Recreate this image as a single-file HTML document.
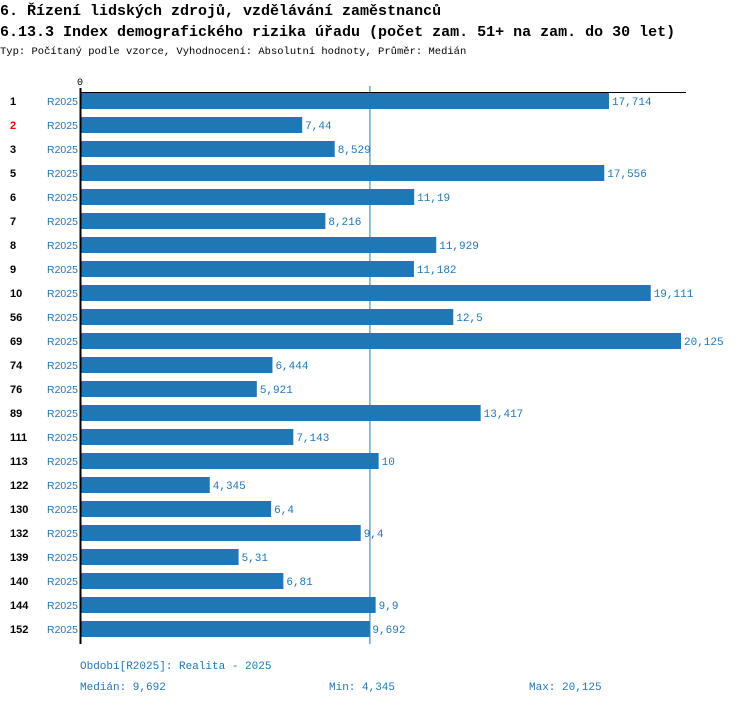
<!DOCTYPE html>
<html><head><meta charset="utf-8"><style>
body{margin:0;background:#fff;width:750px;height:704px;overflow:hidden;font-family:"Liberation Mono",monospace}
</style></head><body>
<svg width="750" height="704" xmlns="http://www.w3.org/2000/svg">
<text x="0" y="15" font-family="Liberation Mono" font-weight="bold" font-size="15">6. Řízení lidských zdrojů, vzdělávání zaměstnanců</text>
<text x="0" y="36" font-family="Liberation Mono" font-weight="bold" font-size="15">6.13.3 Index demografického rizika úřadu (počet zam. 51+ na zam. do 30 let)</text>
<text x="0" y="54" font-family="Liberation Mono" font-size="10.5">Typ: Počítaný podle vzorce, Vyhodnocení: Absolutní hodnoty, Průměr: Medián</text>
<text x="77" y="85" font-family="Liberation Mono" font-size="10">0</text>
<line id="med" y1="86" y2="644" stroke="#1f77b4" stroke-width="1"/>
<g id="bars"></g>
<line x1="80" y1="92.5" x2="686" y2="92.5" stroke="#000" stroke-width="1"/>
<line x1="80.5" y1="88" x2="80.5" y2="644" stroke="#000" stroke-width="2"/>
<g font-family="Liberation Mono" font-size="11" fill="#1f77b4">
<text x="80" y="669">Období[R2025]: Realita - 2025</text>
<text x="80" y="690">Medián: 9,692</text>
<text x="329" y="690">Min: 4,345</text>
<text x="529" y="690">Max: 20,125</text>
</g>
</svg>
<script>
const categories=["1","2","3","5","6","7","8","9","10","56","69","74","76","89","111","113","122","130","132","139","140","144","152"];
const values=[17.714,7.44,8.529,17.556,11.19,8.216,11.929,11.182,19.111,12.5,20.125,6.444,5.921,13.417,7.143,10,4.345,6.4,9.4,5.31,6.81,9.9,9.692];
const labels=["17,714","7,44","8,529","17,556","11,19","8,216","11,929","11,182","19,111","12,5","20,125","6,444","5,921","13,417","7,143","10","4,345","6,4","9,4","5,31","6,81","9,9","9,692"];
const highlighted=["2"];
const median=9.692;
const x0=80,pxPer=(681-80)/20.125,y0=101,step=24,bh=16;
const xs=v=>x0+v*pxPer, ys=i=>y0+i*step;
const NS="http://www.w3.org/2000/svg";
const g=document.getElementById('bars');
function mk(t,a){const e=document.createElementNS(NS,t);for(const k in a)e.setAttribute(k,a[k]);return e;}
document.getElementById('med').setAttribute('x1',xs(median)+0.5);
document.getElementById('med').setAttribute('x2',xs(median)+0.5);
categories.forEach((c,i)=>{
  const y=ys(i);
  const cl=mk('text',{x:10,y:y+4,'font-family':'Liberation Sans','font-weight':'bold','font-size':'11',fill:highlighted.includes(c)?'#e00':'#000'});
  cl.textContent=c;
  
  
  g.appendChild(cl);
  const sl=mk('text',{x:47,y:y+4,'font-family':'Liberation Sans','font-size':'10.5',fill:'#1f77b4'});
  sl.textContent='R2025';
  
  
  g.appendChild(sl);
  const r=mk('rect',{x:x0,y:y-bh/2,width:xs(values[i])-x0,height:bh,fill:'#1f77b4'});
  
  
  g.appendChild(r);
  const vl=mk('text',{x:xs(values[i])+3,y:y+4,'font-family':'Liberation Mono','font-size':'11',fill:'#1f77b4'});
  vl.textContent=labels[i];
  
  
  g.appendChild(vl);
});
</script>
</body></html>
